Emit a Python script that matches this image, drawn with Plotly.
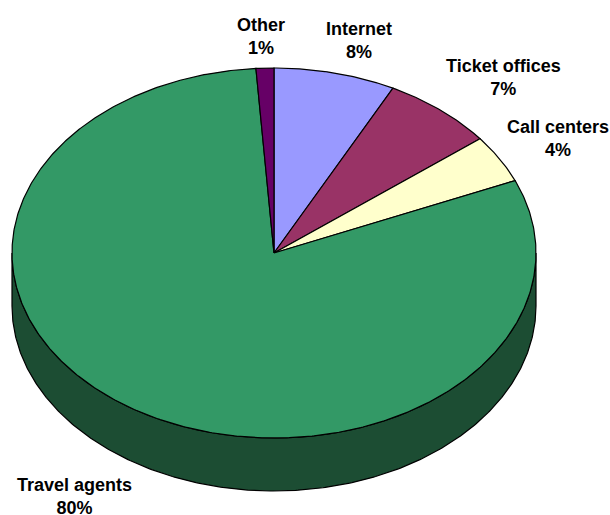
import numpy as np
import plotly.graph_objects as go

# Booking channel shares, clockwise from twelve o'clock
categories = ["Internet", "Ticket offices", "Call centers", "Travel agents", "Other"]
shares = [7.5, 6.9, 4.2, 80.3, 1.1]
top_colors = ["#9999FF", "#993366", "#FFFFCC", "#339966", "#660066"]
side_colors = ["#4D4D80", "#4D1A33", "#808066", "#1C4D33", "#330033"]
percent_labels = ["8%", "7%", "4%", "80%", "1%"]
label_centers_px = [(359, 40), (503.5, 77), (558, 138.5), (74, 496.5), (261, 36)]

# Projection of the disc onto the page, in pixels
WIDTH, HEIGHT = 610, 515
CX, CY = 274, 253
RX, RY = 262, 185
DEPTH = 53
OUTLINE = dict(color="black", width=1.2)


def rim(start, end):
    """Points along the elliptical rim between two clockwise angles (radians from north)."""
    n = max(2, int(abs(end - start) / (2 * np.pi) * 720))
    t = np.linspace(start, end, n)
    return CX + RX * np.sin(t), CY - RY * np.cos(t)


fig = go.Figure()

edges = np.cumsum([0] + shares) / sum(shares) * 2 * np.pi

# Wall of the disc: only the front half is visible, from 3 to 9 o'clock
for i, color in enumerate(side_colors):
    a = max(edges[i], np.pi / 2)
    b = min(edges[i + 1], 3 * np.pi / 2)
    if b <= a:
        continue
    x, y = rim(a, b)
    fig.add_trace(go.Scatter(
        x=np.r_[x, x[::-1], x[0]],
        y=np.r_[y, y[::-1] + DEPTH, y[0]],
        mode="lines", fill="toself", fillcolor=color, line=OUTLINE,
        hoverinfo="skip", showlegend=False,
    ))

# Top face wedges
for i, (name, color) in enumerate(zip(categories, top_colors)):
    x, y = rim(edges[i], edges[i + 1])
    fig.add_trace(go.Scatter(
        x=np.r_[CX, x, CX], y=np.r_[CY, y, CY],
        mode="lines", fill="toself", fillcolor=color, line=OUTLINE,
        name=name, showlegend=False,
    ))

# Two-line bold slice labels
for name, pct, (lx, ly) in zip(categories, percent_labels, label_centers_px):
    fig.add_annotation(
        x=lx, y=ly, text=f"<b>{name}</b><br><b>{pct}</b>", showarrow=False,
        xanchor="center", yanchor="middle", align="center",
        font=dict(family="Liberation Sans, Arial, sans-serif", size=18, color="black"),
    )

fig.update_layout(
    width=WIDTH, height=HEIGHT,
    margin=dict(l=0, r=0, t=0, b=0),
    paper_bgcolor="white", plot_bgcolor="white",
    xaxis=dict(range=[0, WIDTH], visible=False, fixedrange=True),
    yaxis=dict(range=[HEIGHT, 0], visible=False, fixedrange=True),
)

fig.write_html("out.html")
